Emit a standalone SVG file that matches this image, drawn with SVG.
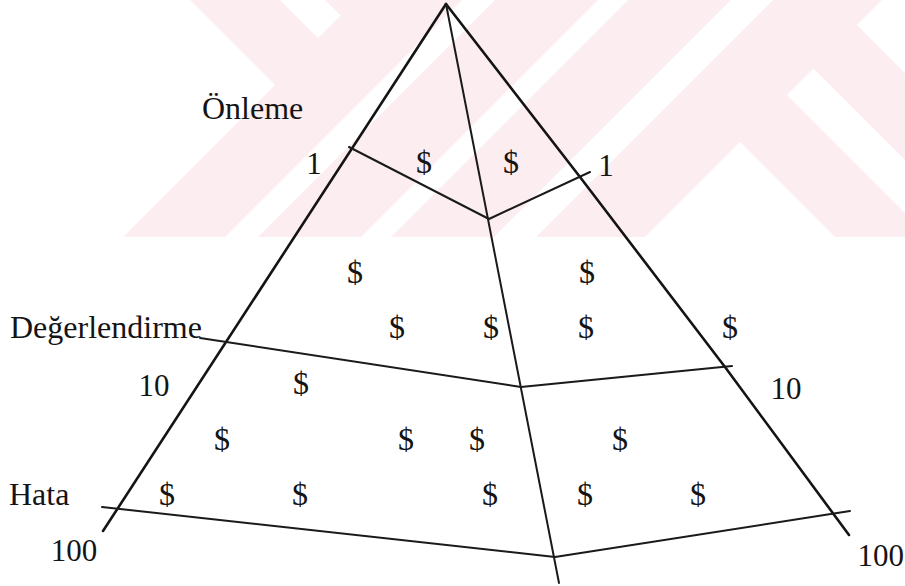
<svg xmlns="http://www.w3.org/2000/svg" width="905" height="586" viewBox="0 0 905 586">
  <style>
    .wm { fill: #ffffff; }
    .edge { fill: none; stroke: #141414; stroke-width: 2.6; stroke-linecap: round; stroke-linejoin: round; }
    .div { fill: none; stroke: #1a1a1a; stroke-width: 2; stroke-linecap: round; stroke-linejoin: round; }
    .lbl { font-family: "Liberation Serif", "Times New Roman", serif; font-size: 32px; fill: #141414; }
    .num { font-family: "Liberation Serif", "Times New Roman", serif; font-size: 31px; fill: #141414; text-anchor: middle; }
    .cur { font-family: "Liberation Serif", "Times New Roman", serif; font-size: 32px; fill: #141414; text-anchor: middle; }
  </style>
  <rect x="0" y="0" width="905" height="586" fill="#ffffff"/>
  <g id="watermark">
    <rect x="0" y="0" width="905" height="237" fill="#fcedf0"/>
    <polygon class="wm" points="0,0 190,0 275,85 123,237 0,237"/>
    <polygon class="wm" points="280,0 325,0 340.5,15.5 318,38"/>
    <polygon class="wm" points="462,0 495,0 258,237 225,237"/>
    <polygon class="wm" points="598,0 628,0 391,237 361,237"/>
    <polygon class="wm" points="731,0 773,0 536,237 494,237"/>
    <polygon class="wm" points="740,142 835,237 645,237"/>
    <polygon class="wm" points="813.5,68.5 905,160 905,213 787,95"/>
    <polygon class="wm" points="882,0 905,0 905,73 857,25"/>
  </g>
  <g id="connectors">
    <line class="edge" x1="446" y1="4" x2="103" y2="531"/>
    <polyline class="edge" points="446,4 580,177 725,367 849,535"/>
    <line class="div" x1="446" y1="4" x2="559" y2="583"/>
    <polyline class="div" points="349,147 489,219 590,172"/>
    <polyline class="div" points="200,338 521,387 732,366"/>
    <polyline class="div" points="102,507 555,557 850,511"/>
  </g>
  <g id="level-onleme">
    <text class="lbl" x="202" y="119">Önleme</text>
    <text class="num" x="314" y="174">1</text>
    <text class="num" x="606" y="176">1</text>
    <text class="cur" x="424" y="173">$</text>
    <text class="cur" x="511" y="173">$</text>
  </g>
  <g id="level-degerlendirme">
    <text class="cur" x="355" y="283">$</text>
    <text class="cur" x="587" y="283">$</text>
    <text class="lbl" x="10" y="338">Değerlendirme</text>
    <text class="cur" x="397" y="338">$</text>
    <text class="cur" x="491" y="338">$</text>
    <text class="cur" x="586" y="338">$</text>
    <text class="cur" x="730" y="338">$</text>
    <text class="num" x="154" y="396">10</text>
    <text class="num" x="786" y="399">10</text>
    <text class="cur" x="301" y="394">$</text>
  </g>
  <g id="level-hata">
    <text class="cur" x="222" y="450">$</text>
    <text class="cur" x="406" y="450">$</text>
    <text class="cur" x="477" y="450">$</text>
    <text class="cur" x="620" y="450">$</text>
    <text class="lbl" x="9" y="505">Hata</text>
    <text class="cur" x="167" y="505">$</text>
    <text class="cur" x="300" y="505">$</text>
    <text class="cur" x="490" y="505">$</text>
    <text class="cur" x="585" y="505">$</text>
    <text class="cur" x="698" y="505">$</text>
    <text class="num" x="74" y="561">100</text>
    <text class="num" x="904" y="566" style="text-anchor: end">100</text>
  </g>
</svg>
